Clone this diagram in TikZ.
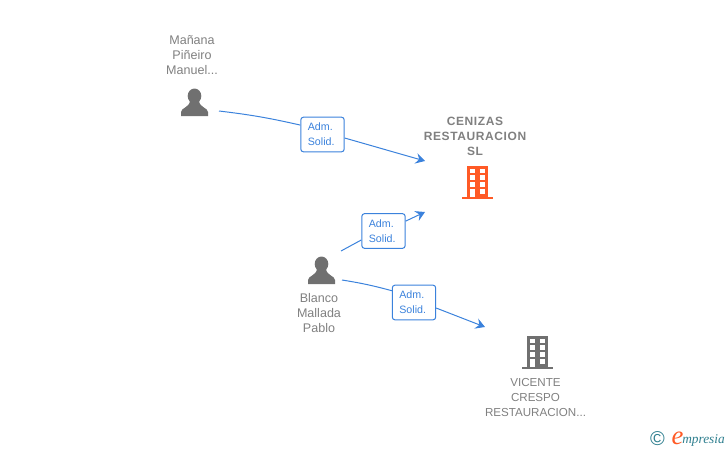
\documentclass[tikz,border=0pt]{standalone}
\usepackage{fontspec}
\usepackage{xcolor}
\usetikzlibrary{arrows.meta}
\setmainfont{Liberation Sans}
\newfontfamily\headfont[LetterSpace=5]{Liberation Sans}
\newfontfamily\logofont{Liberation Serif}
\definecolor{linkblue}{HTML}{3B82DC}
\definecolor{namegray}{HTML}{808080}
\definecolor{icongray}{HTML}{707070}
\definecolor{firmorange}{HTML}{FF5A26}
\definecolor{logoteal}{HTML}{2F7F8F}
\tikzset{
	namelabel/.style={align=center,text=namegray,inner sep=0pt,font=\fontsize{9.4}{11.25}\selectfont},
	headlabel/.style={namelabel,font=\headfont\bfseries\fontsize{9}{11.25}\selectfont},
	adm/.style={draw=linkblue,line width=0.75pt,rounded corners=2pt,fill=white,align=left,text=linkblue,
		text width=22pt,inner xsep=5.25pt,inner ysep=0pt,minimum height=26pt,font=\fontsize{8}{11.25}\selectfont},
	linkline/.style={draw=linkblue,line width=0.75pt},
	linkend/.style={linkline,-{Stealth[length=7pt,width=8pt,inset=2.5pt]}},
	pics/personicon/.style={code={
		\fill[icongray] (0,-6.5) ellipse (6.8 and 7.5);
		\fill[icongray] (-13.5,13.5) -- (-13.5,9.5) .. controls (-13.5,5) and (-5,5.5) .. (-4.5,-2)
			-- (4.5,-2) .. controls (5,5.5) and (13.5,5) .. (13.5,9.5) -- (13.5,13.5) -- cycle;
	}},
	pics/firmicon/.style={code={
		\fill[#1] (-10.5,-16.5) rectangle (10.5,15);
		\fill[#1] (-15.5,14.5) rectangle (15.5,16.5);
		\foreach \wx in {-8,2}
			\foreach \wy/\wh in {-13.5/4.3,-7.5/5,-0.2/4.4}
				\fill[white] (\wx,\wy) rectangle ++(5.5,\wh);
		\fill[white] (-8,6.8) rectangle (-2.5,14.5);
		\fill[white] (2,6.8) rectangle (7.5,11);
	}}
}
\begin{document}
\begin{tikzpicture}[x=0.75pt,y=-0.75pt]
	\useasboundingbox (0,0) rectangle (728,450);
	% names
	\node[namelabel] (manana) at (192,55) {Mañana\\Piñeiro\\Manuel...};
	\node[headlabel] (cenizas) at (475,136) {CENIZAS\\RESTAURACION\\SL};
	\node[namelabel] (blanco) at (319,313) {Blanco\\Mallada\\Pablo};
	\node[namelabel,font=\fontsize{8.7}{11.25}\selectfont] (vicente) at (535.5,398) {VICENTE\\CRESPO\\RESTAURACION...};
	% icons
	\pic at (194.5,102.5) {personicon};
	\pic at (321.5,270.5) {personicon};
	\pic at (477.5,182.5) {firmicon=firmorange};
	\pic at (537.5,352.5) {firmicon=icongray};
	% connector ends
	\coordinate (mananaout) at (219,111);
	\coordinate (blancoouta) at (341,251);
	\coordinate (blancooutb) at (342,280);
	\coordinate (cenizasina) at (425,161);
	\coordinate (cenizasinb) at (425,212);
	\coordinate (vicentein) at (485,327);
	% adm. solid. boxes
	\node[adm] (admmanana) at (322.5,134.5) {Adm.\\Solid.};
	\node[adm] (admcenizas) at (383.5,231) {Adm.\\Solid.};
	\node[adm] (admvicente) at (414,302.5) {Adm.\\Solid.};
	% connectors
	\draw[linkline] (mananaout) to[bend left=3] (admmanana.157);
	\draw[linkend] (admmanana.351) to (cenizasina);
	\draw[linkline] (blancoouta) to (admcenizas.202);
	\draw[linkend] (admcenizas.24) to (cenizasinb);
	\draw[linkline] (blancooutb) to[bend left=3] (admvicente.152);
	\draw[linkend] (admvicente.346) to (vicentein);
	% logo
	\node[text=logoteal,inner sep=0pt,font=\fontsize{15}{16}\selectfont] (copy) at (657.5,438.5) {©};
	\node[text=firmorange,inner sep=0pt,font=\logofont\itshape\fontsize{20}{20}\selectfont] (logoe) at (677.5,438.5) {e};
	\node[text=logoteal,inner sep=0pt,anchor=west,font=\logofont\itshape\fontsize{10}{11}\selectfont] (logotext) at (682,440) {mpresia};
\end{tikzpicture}
\end{document}
